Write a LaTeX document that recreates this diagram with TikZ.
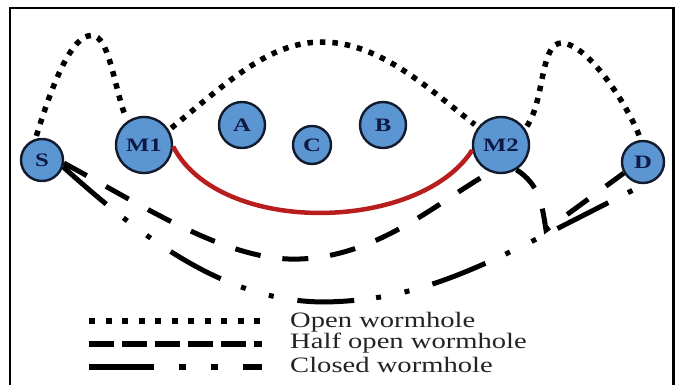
\documentclass[tikz,border=0pt]{standalone}
\usepackage{fontspec}
\usepackage{graphicx}
\setmainfont{Liberation Serif}
\definecolor{ndfill}{RGB}{91,150,210}
\definecolor{ndline}{RGB}{18,26,45}
\definecolor{lbl}{RGB}{15,25,70}
\definecolor{legtxt}{RGB}{35,35,35}
\definecolor{redarc}{RGB}{185,30,30}
\begin{document}
\begin{tikzpicture}[x=1pt,y=-1pt,
  nd/.style={circle,draw=ndline,line width=2.4pt,fill=ndfill,inner sep=0pt,text=lbl,font=\fontsize{19}{19}\selectfont\bfseries},
  openw/.style={line width=5.5pt,dash pattern=on 5.5pt off 7pt},
  halfw/.style={line width=5pt,dash pattern=on 26pt off 22pt},
  closedw/.style={line width=5pt,dash pattern=on 57pt off 22pt on 5pt off 24pt on 5pt off 24pt},
  leg/.style={anchor=west,text=legtxt,font=\fontsize{22}{22}\selectfont,inner sep=0pt}]
\useasboundingbox (0,0) rectangle (678,385);
\fill[white] (0,0) rectangle (678,385);
\draw[line width=2pt] (10,385) -- (10,8) -- (673,8);
\draw[line width=3pt] (673,7) -- (673,385);

% nodes
\node[nd,minimum size=42pt] (S) at (42,160) {\scalebox{1.3}[1]{S}};
\node[nd,minimum size=56pt] (M1) at (144,145) {\scalebox{1.3}[1]{M1}};
\node[nd,minimum size=46pt] (A) at (242,125) {\scalebox{1.3}[1]{A}};
\node[nd,minimum size=38pt] (C) at (312,145) {\scalebox{1.3}[1]{C}};
\node[nd,minimum size=46pt] (B) at (383,125) {\scalebox{1.3}[1]{B}};
\node[nd,minimum size=56pt] (M2) at (501,145) {\scalebox{1.3}[1]{M2}};
\node[nd,minimum size=42pt] (D) at (643,162) {\scalebox{1.3}[1]{D}};

% open wormholes (dotted)
\draw[openw,shorten <=3pt,shorten >=4pt] (S.107) .. controls (55,75) and (75,30) .. (95,36) .. controls (110,42) and (115,90) .. (M1.125);
\draw[openw,shorten <=3pt,shorten >=4pt] (M1.31) .. controls (230,80) and (270,42) .. (322,42) .. controls (380,42) and (430,90) .. (M2.142);
\draw[openw,shorten <=3pt,shorten >=4pt] (M2.34) .. controls (545,100) and (540,42) .. (562,43) .. controls (590,45) and (630,110) .. (D.96);

% half open wormholes (dashed)
\draw[halfw] (S.-8) .. controls (150,210) and (230,262) .. (300,259) .. controls (380,256) and (440,200) .. (M2.-111);
\coordinate (hk) at (546,230);
\draw[halfw] (M2.-58) .. controls (540,185) and (542,205) .. (hk) -- (D.-150);

% closed wormhole (dash-dot)
\draw[closedw] (S.-18) .. controls (150,245) and (230,302) .. (325,302) .. controls (430,300) and (490,262) .. (D.-85);

% red link
\draw[redarc,line width=4.5pt] (M1.-3) .. controls (220,237) and (420,232) .. (M2.190);

% legend
\coordinate (l1a) at (89,321); \coordinate (l1b) at (262,321);
\coordinate (l2a) at (89,344); \coordinate (l2b) at (262,344);
\coordinate (l3a) at (89,367); \coordinate (l3b) at (262,367);
\draw[line width=5.5pt,dash pattern=on 6pt off 10.5pt] (l1a) -- (l1b);
\draw[line width=5.5pt,dash pattern=on 25pt off 8pt] (l2a) -- (l2b);
\draw[line width=5.5pt,dash pattern=on 65pt off 25pt on 7pt off 25pt on 7pt off 25pt] (l3a) -- (l3b);
\node[leg] (t1) at (290,322) {\scalebox{1.3}[1]{Open wormhole}};
\node[leg] (t2) at (290,343) {\scalebox{1.3}[1]{Half open wormhole}};
\node[leg] (t3) at (290,365) {\scalebox{1.3}[1]{Closed wormhole}};
\end{tikzpicture}
\end{document}
